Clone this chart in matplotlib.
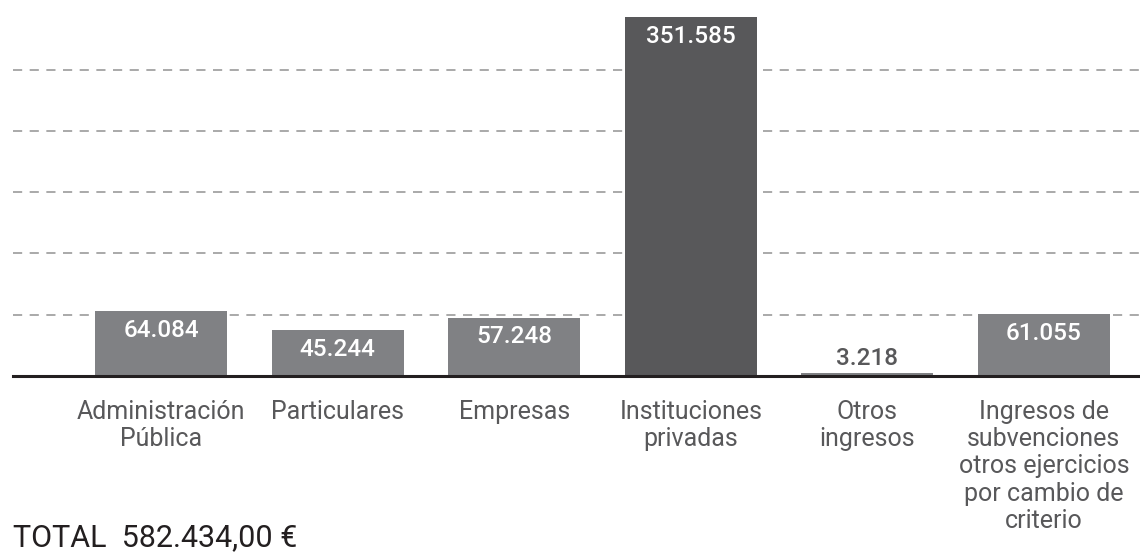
import matplotlib
matplotlib.use("Agg")
import matplotlib.pyplot as plt
from matplotlib.ticker import FixedLocator

categories = ["Administración\nPública", "Particulares", "Empresas",
              "Instituciones\nprivadas", "Otros\ningresos",
              "Ingresos de\nsubvenciones\notros ejercicios\npor cambio de\ncriterio"]
values = [64084, 45244, 57248, 351585, 3218, 61055]
value_labels = ["64.084", "45.244", "57.248", "351.585", "3.218", "61.055"]
grid_values = [60000, 120000, 180000, 240000, 300000]
total_text = "TOTAL  582.434,00 €"

bar_color = "#808184"
highlight_color = "#58585a"
text_color = "#58585a"

plt.rcParams['font.family'] = ['Roboto', 'DejaVu Sans']

fig = plt.figure(figsize=(11.4, 5.54), dpi=100)
W, H = 1140, 554
ax = fig.add_axes([13 / W, (H - 376) / H, (W - 13) / W, 376 / H])

x = list(range(len(values)))
colors = [highlight_color if v == max(values) else bar_color for v in values]
bars = ax.bar(x, values, width=0.747, color=colors, zorder=2)

ax.set_xlim(-0.838, 5.544)
ax.set_ylim(0, 368250)

ax.yaxis.set_major_locator(FixedLocator(grid_values))
ax.grid(axis='y', color='#9b9b9b', linestyle=(0, (5.5, 4.5)), linewidth=1.2, zorder=1)
ax.tick_params(left=False, bottom=False, labelleft=False, labelbottom=False)
for s in ['top', 'right', 'left']:
    ax.spines[s].set_visible(False)
ax.spines['bottom'].set_color('#231f20')
ax.spines['bottom'].set_linewidth(2.2)
ax.spines['bottom'].set_zorder(3)

for xi, v, lab in zip(x, values, value_labels):
    if v > 20000:
        ax.annotate(lab, (xi, v), xytext=(0, -14), textcoords='offset points',
                    ha='center', va='center', color='white', fontsize=17.5,
                    fontweight='medium', zorder=4)
    else:
        ax.annotate(lab, (xi, v), xytext=(0, 10), textcoords='offset points',
                    ha='center', va='center', color=text_color, fontsize=17.5,
                    fontweight='medium', zorder=4)

for xi, cat in zip(x, categories):
    ax.annotate(cat, (xi, 0), xytext=(0, -17), textcoords='offset points',
                ha='center', va='top', color=text_color, fontsize=18,
                linespacing=1.18, annotation_clip=False)

fig.text(13 / W, 1 - 538 / H, total_text, ha='left', va='center',
         fontsize=22, color='#231f20')

fig.savefig("out.png", dpi=100)
